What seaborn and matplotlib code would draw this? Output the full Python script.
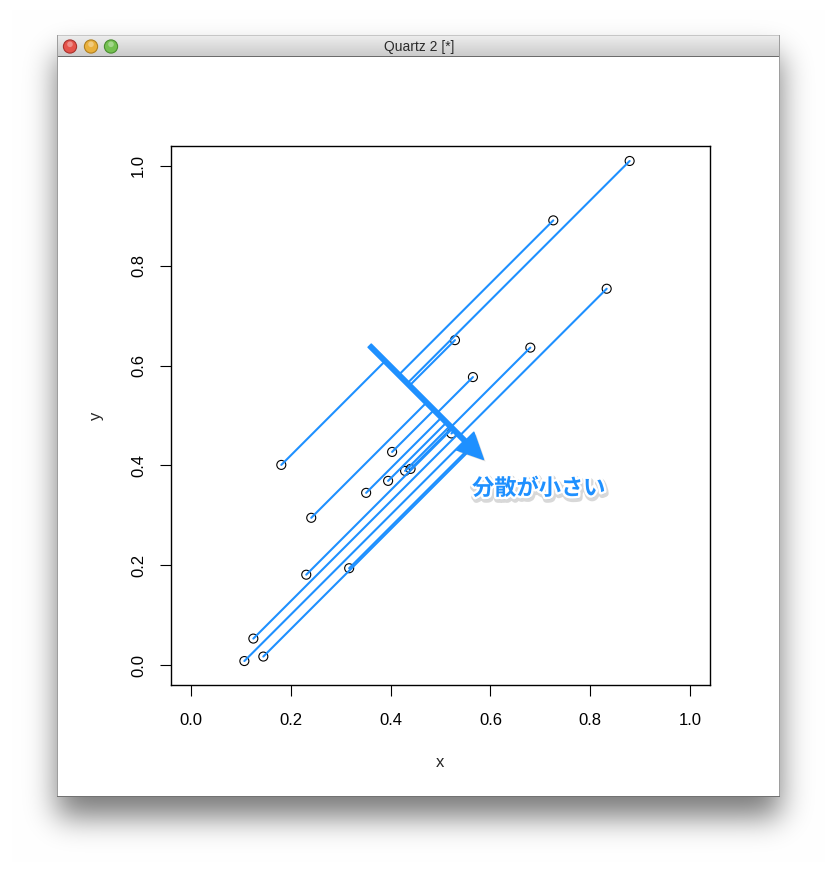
import numpy as np
import pandas as pd
import matplotlib
matplotlib.use('Agg')
import matplotlib.pyplot as plt
import matplotlib.patheffects as pe
from matplotlib.patches import Circle, FancyArrowPatch
import seaborn as sns

# points
x_vals = [0.181, 0.241, 0.351, 0.395, 0.403, 0.429, 0.440, 0.522, 0.529, 0.565,
          0.680, 0.726, 0.879, 0.833, 0.231, 0.317, 0.125, 0.107, 0.145]
y_vals = [0.401, 0.295, 0.345, 0.369, 0.427, 0.389, 0.393, 0.464, 0.651, 0.577,
          0.636, 0.891, 1.010, 0.754, 0.181, 0.194, 0.053, 0.008, 0.017]

# each point is projected along (1, 1) onto the line x + y = line_c
line_c = 1.0
arrow_start = (0.358, 0.640)
arrow_end = (0.586, 0.412)
label_text = "分散が小さい"
label_pos = (0.697, 0.354)

tick_vals = [0.0, 0.2, 0.4, 0.6, 0.8, 1.0]
tick_labels = ["0.0", "0.2", "0.4", "0.6", "0.8", "1.0"]
window_title = "Quartz 2 [*]"

BLUE = "dodgerblue"
W, H = 837, 876


def blur(a, sigma):
    r = int(3 * sigma)
    k = np.exp(-0.5 * (np.arange(-r, r + 1) / sigma) ** 2)
    k /= k.sum()
    a = np.apply_along_axis(lambda v: np.convolve(v, k, mode='same'), 0, a)
    a = np.apply_along_axis(lambda v: np.convolve(v, k, mode='same'), 1, a)
    return a


def window_image():
    """Mac window frame with drop shadow, as an RGB array"""
    wl, wr, wt, wb, tb = 57, 780, 35, 797, 56
    img = np.ones((H, W, 3))
    mask = np.zeros((H, W))
    mask[wt + 20:wb + 20, wl:wr] = 1
    shade = 0.52 * blur(mask, 15)
    img *= (1 - shade[..., None])
    img[wt:wb, wl:wr] = 1.0
    grad = np.linspace(0.93, 0.80, tb - wt)
    img[wt:tb, wl:wr] = grad[:, None, None]
    img[tb, wl:wr] = 0.42
    img[wt, wl:wr] = 0.78
    img[wt:wb, wl] = 0.62
    img[wt:wb, wr - 1] = 0.62
    img[wb - 1, wl:wr] = 0.45
    return img


sns.set_style('ticks')
plt.rcParams['font.family'] = ['Liberation Sans', 'Noto Sans CJK JP', 'DejaVu Sans']

fig = plt.figure(figsize=(W / 100, H / 100), dpi=100)

# window chrome
bg = fig.add_axes([0, 0, 1, 1])
bg.imshow(window_image(), extent=(0, W, H, 0), interpolation='nearest')
bg.set_xlim(0, W)
bg.set_ylim(H, 0)
bg.axis('off')
for cx, face, edge in [(70, '#e5534b', '#a8322d'), (91, '#e9b03c', '#b0801f'), (111, '#74c050', '#4a8d30')]:
    bg.add_patch(Circle((cx, 46.5), 6.6, facecolor=face, edgecolor=edge, lw=0.8))
    bg.add_patch(Circle((cx, 44.3), 2.8, facecolor='white', edgecolor='none', alpha=0.35))
bg.text(419, 46.5, window_title, ha='center', va='center', fontsize=10,
        color='#2b2b2b', family=['Liberation Sans Narrow', 'Liberation Sans', 'DejaVu Sans'])

# plot region
ax = fig.add_axes([171 / W, (H - 685) / H, (710 - 171) / W, (685 - 146) / H])
ax.set_facecolor('none')

pts = pd.DataFrame({'x': x_vals, 'y': y_vals})
t = (line_c - pts['x'] - pts['y']) / 2
seg = pd.concat([
    pd.DataFrame({'seg': pts.index, 'x': pts['x'], 'y': pts['y'], 'k': 0}),
    pd.DataFrame({'seg': pts.index, 'x': pts['x'] + t, 'y': pts['y'] + t, 'k': 1}),
]).sort_values(['seg', 'k'])

sns.scatterplot(data=pts, x='x', y='y', ax=ax, marker='o', s=42,
                facecolor='none', edgecolor='black', linewidth=0.8, zorder=2)
sns.lineplot(data=seg, x='x', y='y', units='seg', estimator=None, sort=False,
             ax=ax, color=BLUE, lw=1.5, zorder=3)

arrow = FancyArrowPatch(arrow_start, arrow_end, mutation_scale=15, shrinkA=0, shrinkB=0,
                        arrowstyle='simple,head_length=1.25,head_width=1.2,tail_width=0.22',
                        color=BLUE, zorder=5)
arrow.set_path_effects([pe.SimplePatchShadow(offset=(1.5, -1.5), shadow_rgbFace='gray', alpha=0.3),
                        pe.Normal()])
ax.add_patch(arrow)

ax.text(label_pos[0], label_pos[1], label_text, ha='center', va='center',
        fontsize=16, fontweight='bold', color=BLUE, zorder=6,
        family=['Noto Sans CJK JP', 'DejaVu Sans'],
        path_effects=[pe.Stroke(linewidth=5, foreground='gray', alpha=0.3, offset=(0.8, -1.8)),
                      pe.Stroke(linewidth=3.5, foreground='white'),
                      pe.Normal()])

ax.set_xlim(-0.04, 1.04)
ax.set_ylim(-0.04, 1.04)
ax.set_xticks(tick_vals)
ax.set_xticklabels(tick_labels)
ax.set_yticks(tick_vals)
ax.set_yticklabels(tick_labels, rotation=90, va='center')
ax.tick_params(axis='both', direction='out', length=8, width=0.8, colors='black', labelsize=12)
ax.tick_params(axis='x', pad=12)
ax.tick_params(axis='y', pad=10)
for sp in ax.spines.values():
    sp.set_visible(True)
    sp.set_color('black')
    sp.set_linewidth(1.0)

ax.set_xlabel('x', fontsize=12, va='center')
ax.set_ylabel('y', fontsize=12, va='center')
ax.xaxis.set_label_coords(0.5, -0.143)
ax.yaxis.set_label_coords(-0.139, 0.5)

fig.savefig('out.png', dpi=100)
